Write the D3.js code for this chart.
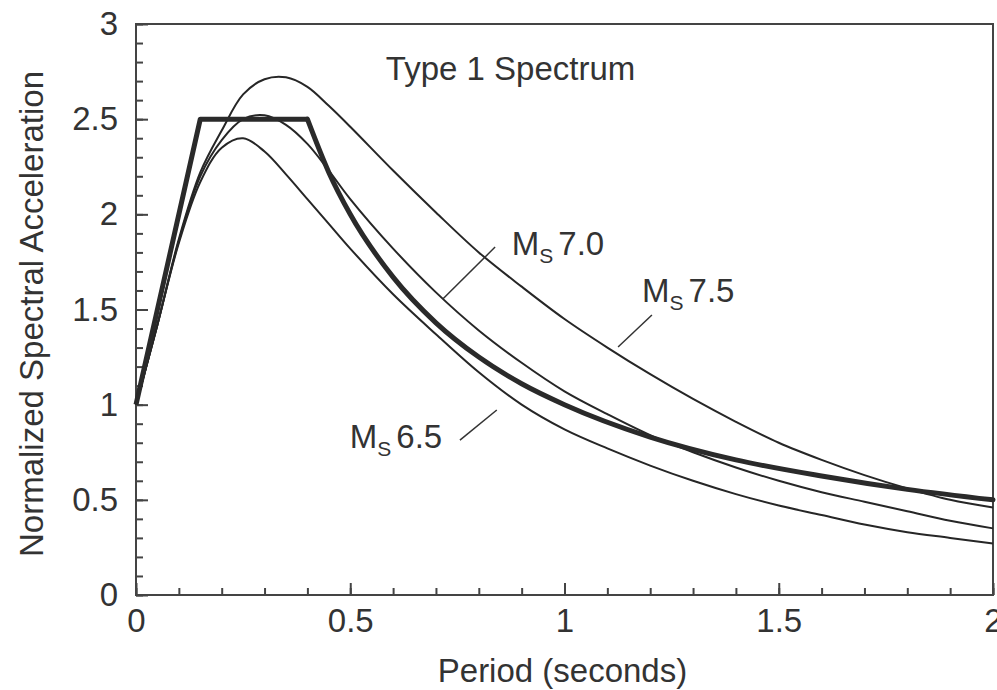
<!DOCTYPE html>
<html>
<head>
<meta charset="UTF-8">
<title>Type 1 Spectrum</title>
<script src="https://d3js.org/d3.v7.min.js"></script>
<style>
  body { margin: 0; background: #fff; }
  text { font-family: "Liberation Sans", Arial, Helvetica, sans-serif; fill: #333; }
</style>
</head>
<body>
<script>
  // period (s) and normalized spectral acceleration
  var periods = [0, 0.05, 0.1, 0.15, 0.2, 0.25, 0.3, 0.35, 0.4, 0.45, 0.5, 0.6, 0.7, 0.8, 0.9,
                 1.0, 1.1, 1.2, 1.3, 1.4, 1.5, 1.6, 1.7, 1.8, 1.9, 2.0];
  var ms75 = [1.0, 1.42, 1.87, 2.22, 2.44, 2.63, 2.71, 2.72, 2.67, 2.57, 2.46, 2.23, 2.01, 1.80, 1.62,
              1.45, 1.30, 1.16, 1.03, 0.91, 0.80, 0.71, 0.63, 0.56, 0.50, 0.46];
  var ms70 = [1.0, 1.42, 1.86, 2.2, 2.39, 2.5, 2.52, 2.47, 2.37, 2.23, 2.08, 1.82, 1.59, 1.39, 1.22,
              1.07, 0.95, 0.84, 0.75, 0.67, 0.60, 0.54, 0.49, 0.44, 0.39, 0.35];
  var ms65 = [1.0, 1.42, 1.85, 2.17, 2.35, 2.4, 2.33, 2.21, 2.08, 1.95, 1.82, 1.58, 1.37, 1.17, 1.00,
              0.87, 0.77, 0.68, 0.60, 0.53, 0.47, 0.42, 0.37, 0.33, 0.30, 0.27];

  // design spectrum (thick line)
  var designT = [0, 0.15, 0.4, 0.45, 0.5, 0.6, 0.7, 0.8, 0.9, 1.0, 1.2, 1.4, 1.6, 1.8, 2.0];
  var designV = [1.0, 2.5, 2.5, 2.22, 2.0, 1.67, 1.43, 1.25, 1.11, 1.0, 0.83, 0.71, 0.625, 0.555, 0.5];

  var xMajor = [0, 0.5, 1, 1.5, 2];
  var yMajor = [0, 0.5, 1, 1.5, 2, 2.5, 3];

  // label anchors [T, value] and leader lines
  var curveLabels = [
    {mag: "7.0", at: [0.877, 1.786], lead: [[0.838, 1.828], [0.716, 1.555]]},
    {mag: "7.5", at: [1.181, 1.539], lead: [[1.204, 1.471], [1.125, 1.303]]},
    {mag: "6.5", at: [0.499, 0.772], lead: [[0.756, 0.814], [0.842, 0.972]]}
  ];

  var width = 997, height = 690;
  var margin = {top: 24, right: 4, bottom: 95, left: 136};

  var svg = d3.select("body").append("svg")
      .attr("width", width)
      .attr("height", height);

  var x = d3.scaleLinear().domain([0, 2]).range([margin.left, width - margin.right]);
  var y = d3.scaleLinear().domain([0, 3]).range([height - margin.bottom, margin.top]);

  var minorX = d3.range(0, 2.001, 0.1);
  var minorY = d3.range(0, 3.001, 0.1);

  // minor ticks
  svg.append("g")
      .attr("transform", "translate(0," + y(0) + ")")
      .call(d3.axisBottom(x).tickValues(minorX).tickSize(-7).tickSizeOuter(0).tickFormat(""))
      .call(function(g) { g.select(".domain").remove(); });
  svg.append("g")
      .attr("transform", "translate(" + x(0) + ",0)")
      .call(d3.axisLeft(y).tickValues(minorY).tickSize(-7).tickSizeOuter(0).tickFormat(""))
      .call(function(g) { g.select(".domain").remove(); });

  // major ticks + labels
  var xAxis = svg.append("g")
      .attr("transform", "translate(0," + y(0) + ")")
      .call(d3.axisBottom(x).tickValues(xMajor).tickSize(-12).tickSizeOuter(0).tickPadding(14)
            .tickFormat(d3.format("")));
  var yAxis = svg.append("g")
      .attr("transform", "translate(" + x(0) + ",0)")
      .call(d3.axisLeft(y).tickValues(yMajor).tickSize(-12).tickSizeOuter(0).tickPadding(18)
            .tickFormat(d3.format("")));

  svg.selectAll(".tick line").attr("stroke", "#444").attr("stroke-width", 2);
  svg.selectAll(".tick text").style("font-size", "33px").attr("fill", "#333");
  xAxis.select(".domain").remove();
  yAxis.select(".domain").remove();

  // frame
  svg.append("rect")
      .attr("x", x(0)).attr("y", y(3))
      .attr("width", x(2) - x(0)).attr("height", y(0) - y(3))
      .attr("fill", "none").attr("stroke", "#444").attr("stroke-width", 2);

  var line = d3.line()
      .x(function(d) { return x(d[0]); })
      .y(function(d) { return y(d[1]); })
      .curve(d3.curveCatmullRom.alpha(0.5));

  [ms75, ms70, ms65].forEach(function(s) {
    svg.append("path")
        .datum(periods.map(function(t, i) { return [t, s[i]]; }))
        .attr("fill", "none")
        .attr("stroke", "#262626")
        .attr("stroke-width", 2)
        .attr("d", line);
  });

  var design = designT.map(function(t, i) { return [t, designV[i]]; });
  svg.append("path")
      .datum(design.slice(0, 3))
      .attr("fill", "none").attr("stroke", "#2a2a2a").attr("stroke-width", 5)
      .attr("stroke-linejoin", "round")
      .attr("d", d3.line().x(function(d) { return x(d[0]); }).y(function(d) { return y(d[1]); }));
  svg.append("path")
      .datum(design.slice(2))
      .attr("fill", "none").attr("stroke", "#2a2a2a").attr("stroke-width", 5)
      .attr("stroke-linecap", "round")
      .attr("d", d3.line().x(function(d) { return x(d[0]); }).y(function(d) { return y(d[1]); })
                 .curve(d3.curveMonotoneX));

  // curve labels
  curveLabels.forEach(function(c) {
    svg.append("line")
        .attr("x1", x(c.lead[0][0])).attr("y1", y(c.lead[0][1]))
        .attr("x2", x(c.lead[1][0])).attr("y2", y(c.lead[1][1]))
        .attr("stroke", "#333").attr("stroke-width", 1.5);
    var t = svg.append("text")
        .attr("x", x(c.at[0])).attr("y", y(c.at[1]))
        .style("font-size", "33px");
    t.append("tspan").text("M");
    t.append("tspan").attr("dy", 8).style("font-size", "21px").text("S");
    t.append("tspan").attr("dy", -8).attr("dx", 5).text(c.mag);
  });

  svg.append("text")
      .attr("x", x(0.583)).attr("y", y(2.706))
      .style("font-size", "33px")
      .text("Type 1 Spectrum");

  svg.append("text")
      .attr("x", (x(0) + x(2)) / 2 - 2).attr("y", 682)
      .attr("text-anchor", "middle")
      .style("font-size", "33px")
      .text("Period (seconds)");

  svg.append("text")
      .attr("transform", "translate(43," + 314 + ") rotate(-90)")
      .attr("text-anchor", "middle")
      .style("font-size", "33px")
      .text("Normalized Spectral Acceleration");
</script>
</body>
</html>
